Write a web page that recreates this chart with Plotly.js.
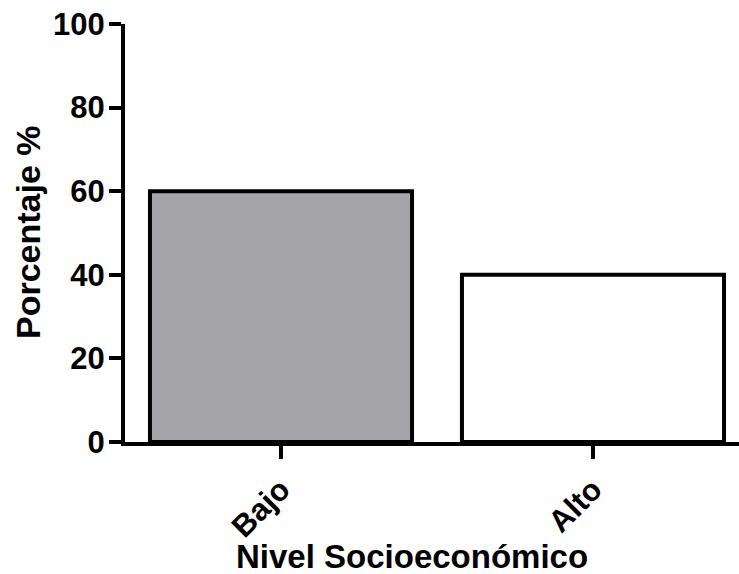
<!DOCTYPE html>
<html>
<head>
<meta charset="utf-8">
<script src="https://cdn.plot.ly/plotly-3.0.1.min.js"></script>
<style>html,body{margin:0;padding:0;background:#fff;}#chart{width:739px;height:574px;}</style>
</head>
<body>
<div id="chart"></div>
<script>
const categories = ["Bajo", "Alto"];
const values = [60, 40];
const barColors = ["#a4a4a9", "#ffffff"];
const yTicks = [0, 20, 40, 60, 80, 100];
const xTitle = "Nivel Socioeconómico";
const yTitle = "Porcentaje %";

const fontFam = '"Liberation Sans", Arial, sans-serif';

const trace = {
  type: 'bar',
  x: categories,
  y: values,
  width: 0.84,
  marker: {color: barColors, line: {color: '#000', width: 4}},
  hoverinfo: 'none'
};

const layout = {
  width: 739, height: 574,
  margin: {l: 125, r: 0, t: 24, b: 132},
  paper_bgcolor: '#fff', plot_bgcolor: '#fff',
  showlegend: false,
  font: {family: fontFam, color: '#000', weight: 'bold'},
  xaxis: {
    type: 'category',
    range: [-0.5, 1.468],
    showline: true, linecolor: '#000', linewidth: 4,
    ticks: 'outside', ticklen: 13, tickwidth: 4, tickcolor: '#000',
    tickangle: -45,
    tickfont: {family: fontFam, size: 31, color: '#000', weight: 'bold'},
    showgrid: false, zeroline: false
  },
  yaxis: {
    range: [0, 100],
    tickvals: yTicks,
    showline: true, linecolor: '#000', linewidth: 4,
    ticks: 'outside', ticklen: 12, tickwidth: 4, tickcolor: '#000',
    ticklabelstandoff: -2,
    tickfont: {family: fontFam, size: 31, color: '#000', weight: 'bold'},
    showgrid: false, zeroline: false
  },
  annotations: [
    {text: xTitle, xref: 'paper', yref: 'paper', x: (412-125)/614, y: -(556-442)/418,
     xanchor: 'center', yanchor: 'middle', showarrow: false,
     font: {family: fontFam, size: 33, color: '#000', weight: 'bold'}},
    {text: yTitle, xref: 'paper', yref: 'paper', x: -(125-28)/614, y: (442-232)/418,
     xanchor: 'center', yanchor: 'middle', showarrow: false, textangle: -90,
     font: {family: fontFam, size: 34, color: '#000', weight: 'bold'}}
  ]
};

Plotly.newPlot('chart', [trace], layout, {staticPlot: true, displayModeBar: false});
</script>
</body>
</html>
